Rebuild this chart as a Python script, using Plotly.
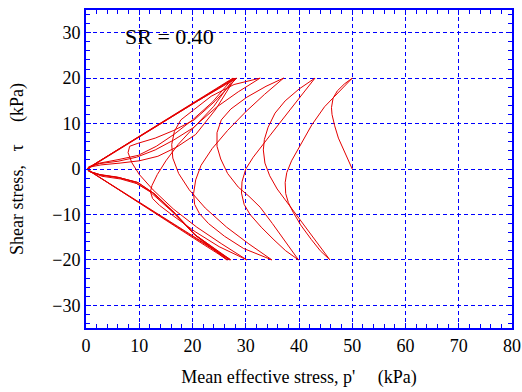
import plotly.graph_objects as go

# ---- stress path: p' (kPa) and tau (kPa), one list pair per half-cycle ----
p_s0 = [50, 49.2, 48.3, 47.4, 46.7, 46.2, 46.1, 46.4, 47.2, 48.5, 50]
t_s0 = [0, 2, 4.5, 6.8, 9.5, 12, 13.5, 15.6, 17.2, 18.7, 20]

p_s1 = [47.5, 44.8, 42.4, 40.2, 38.6, 37.7, 37.4, 37.5, 38, 38.9, 40.3, 42.3, 44, 45.8]
t_s1 = [17, 13.7, 9.7, 5.3, 1.8, -0.8, -3, -5.4, -7.4, -9.5, -12.3, -15.5, -18, -20]

p_s2 = [43.5, 41.2, 39, 37.4, 35.9, 34.5, 33.6, 33.3, 33.5, 34.2, 35.5, 37.4, 40, 43]
t_s2 = [-16.4, -12.8, -9.4, -6.9, -4.4, -1.5, 1.3, 4.2, 6.5, 9.2, 12.3, 15, 17.6, 20]

p_s3 = [40.6, 38.3, 34.5, 31.4, 30, 29.3, 29.2, 29.7, 30.8, 32.9, 35.3, 37.5, 39.9]
t_s3 = [16.5, 13, 7.3, 2.6, 0, -2.8, -5.3, -7.8, -10, -12.8, -15.6, -18, -20]

p_s4 = [37.4, 35, 32.7, 30.6, 28.6, 26.6, 25.3, 24.6, 24.6, 25.4, 27.2, 30.2, 33.8, 37.1]
t_s4 = [-15.8, -12, -8.4, -6, -4, -1, 2.2, 5, 8, 10.8, 13.2, 15.8, 18.2, 20]

p_s5 = [33.5, 30, 26.6, 23.7, 21.6, 20.6, 20.2, 20.4, 21.3, 23, 26, 29.6, 34.9]
t_s5 = [16.4, 12.6, 8.5, 4.5, 0.8, -2.4, -5.4, -7.8, -9.8, -12, -14.8, -17.5, -20]

p_s6 = [30.6, 26.4, 22.4, 19.4, 17.4, 16.3, 16.1, 16.6, 17.8, 20.2, 23.5, 27.8, 32.7]
t_s6 = [-16.5, -12.8, -8.6, -4.6, -1, 2.4, 5.4, 8.3, 10.8, 13, 16, 18.6, 20]

p_s7 = [28.6, 24.5, 20.6, 17.3, 15, 13.4, 12.4, 12.1, 12.5, 13.8, 16.5, 20.5, 25, 30.2]
t_s7 = [17, 13.6, 9.6, 5.4, 1.8, -1.2, -3.6, -5, -6.5, -8, -10.4, -13.8, -17.1, -20]

p_s8 = [25.5, 20.8, 16.4, 12.6, 10, 8.6, 7.9, 8.2, 9.6, 13, 16.5, 20.3, 24.3, 28.3]
t_s8 = [-16.5, -12.8, -8.8, -4.6, -1.2, 1.4, 3.6, 5, 5.6, 6.8, 8.5, 10.8, 15, 20]

p_s9 = [21, 14, 7, 2.5, 0.6, 0.8, 3, 6.5, 9.5, 12.5, 16.5, 20.5, 27.2]
t_s9 = [15, 10, 5, 1.6, 0.2, -0.6, -1.6, -2.2, -3.2, -5.2, -9.6, -14.5, -20]

p_s10 = [20.4, 13.6, 6.8, 2.4, 0.5, 0.7, 2.6, 6, 9.5, 13, 16.5, 20.3, 24, 27.8]
t_s10 = [-15, -10, -5, -1.7, -0.3, 0.5, 1.2, 1.7, 2.6, 4.2, 6.4, 9.2, 13.8, 20]

p_s11 = [20.8, 13.9, 7, 2.5, 0.4, 0.6, 2.8, 6.2, 9.8, 13, 16.8, 20.6, 26.6]
t_s11 = [15, 10, 5, 1.7, 0.2, -0.5, -1.3, -1.9, -3, -5.6, -9.8, -14.6, -20]

p_s12 = [19.9, 13.3, 6.6, 2.3, 0.4, 0.6, 2.8, 6.4, 10, 13.5, 17, 20.6, 24.4, 28]
t_s12 = [-15, -10, -5, -1.7, -0.2, 0.4, 0.9, 1.3, 1.8, 2.8, 4.8, 7.6, 13.2, 20]

p_s13 = [21, 14, 7, 2.5, 0.3, 0.5, 2.5, 6, 9, 12, 16.2, 20.4, 27]
t_s13 = [15, 10, 5, 1.7, 0.15, -0.5, -1.2, -1.8, -2.8, -5, -9.4, -14.4, -20]

p_s14 = [20.2, 13.5, 6.7, 2.3, 0.3, 0.5, 2.6, 6.2, 9.8, 13.2, 16.5, 20, 23.8, 27.6]
t_s14 = [-15, -10, -5, -1.7, -0.2, 0.5, 1.3, 2.1, 3.0, 5.0, 7.6, 10.8, 14.8, 20]

p_s15 = [20.7, 13.8, 6.9, 2.4, 0.3, 0.5, 2.6, 6.1, 9.6, 12.8, 16.6, 20.4, 26.4]
t_s15 = [15, 10, 5, 1.7, 0.15, -0.5, -1.3, -1.9, -2.9, -5.4, -9.7, -14.5, -20]

x_ticks = [0, 10, 20, 30, 40, 50, 60, 70, 80]
y_ticks = [-30, -20, -10, 0, 10, 20, 30]
annotation_text = "SR = 0.40"
x_title = "Mean effective stress, p'\u00a0\u00a0\u00a0\u00a0\u00a0(kPa)"
y_title = "Shear stress,\u00a0\u00a0\u00a0τ\u00a0\u00a0\u00a0\u00a0\u00a0(kPa)"

p_parts = [p_s0, p_s1, p_s2, p_s3, p_s4, p_s5, p_s6, p_s7, p_s8,
           p_s9, p_s10, p_s11, p_s12, p_s13, p_s14, p_s15]
t_parts = [t_s0, t_s1, t_s2, t_s3, t_s4, t_s5, t_s6, t_s7, t_s8,
           t_s9, t_s10, t_s11, t_s12, t_s13, t_s14, t_s15]
p_path, t_path = [], []
for pp, tt in zip(p_parts, t_parts):
    p_path += pp
    t_path += tt

BLUE = "#0000ff"
FONT = "Liberation Serif, Times New Roman, serif"

fig = go.Figure()
fig.add_trace(go.Scatter(x=p_path, y=t_path, mode="lines",
                         line=dict(color="rgb(228,0,0)", width=1),
                         showlegend=False, hoverinfo="skip"))

axis_common = dict(
    showline=True, linecolor=BLUE, linewidth=2, mirror="ticks",
    ticks="inside", ticklen=5, tickwidth=1, tickcolor=BLUE,
    showgrid=True, gridcolor=BLUE, gridwidth=1, griddash="4px,3px",
    zeroline=False, automargin=False,
    tickfont=dict(family=FONT, size=18, color="black"),
    minor=dict(ticks="inside", ticklen=4, tickwidth=1, tickcolor=BLUE,
               dtick=2, showgrid=False),
)

fig.update_xaxes(range=[0, 80], tickvals=x_ticks, **axis_common,
                 title=dict(text=x_title, font=dict(family=FONT, size=18, color="black"),
                            standoff=16))
fig.update_yaxes(range=[-35, 35], tickvals=y_ticks, **axis_common,
                 title=dict(text=y_title, font=dict(family=FONT, size=18, color="black"),
                            standoff=24))

fig.add_annotation(x=15.6, y=29.2, xref="x", yref="y", text=annotation_text,
                   showarrow=False, xanchor="center", yanchor="middle",
                   font=dict(family=FONT, size=22, color="black"))

fig.update_layout(width=522, height=392,
                  margin=dict(l=86, r=10, t=10, b=64),
                  paper_bgcolor="white", plot_bgcolor="white",
                  font=dict(family=FONT, size=18, color="black"))

fig.write_html("out.html")
